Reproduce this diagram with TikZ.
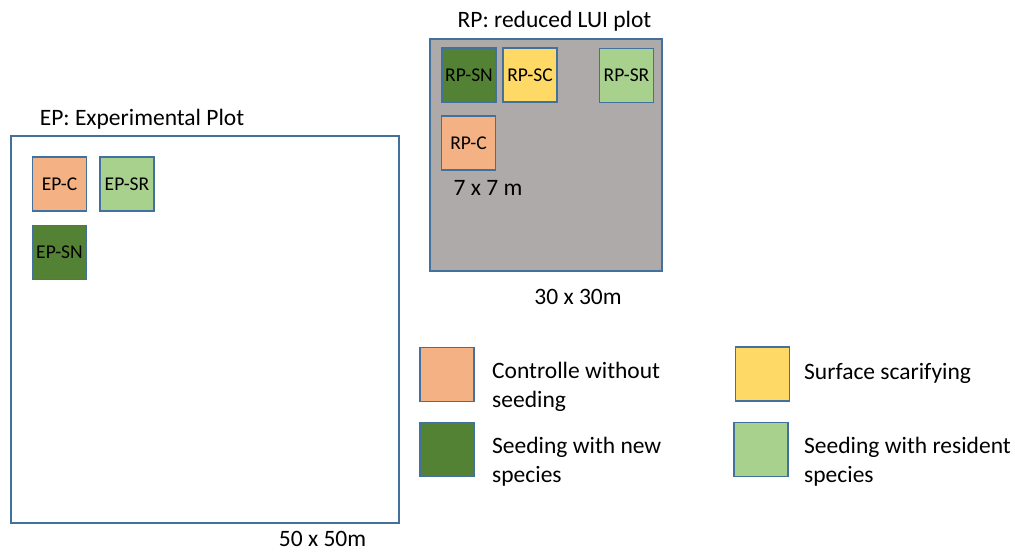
\documentclass[tikz,border=0pt]{standalone}
\usepackage{fontspec}
\setmainfont{Carlito}
\definecolor{bordc}{HTML}{41719C}
\definecolor{orangec}{HTML}{F4B183}
\definecolor{dgreenc}{HTML}{548235}
\definecolor{yellowc}{HTML}{FFD966}
\definecolor{lgreenc}{HTML}{A9D18E}
\definecolor{grayc}{HTML}{AEAAAA}
\tikzset{
  plotbox/.style={draw=bordc, line width=1.6pt, rectangle, inner sep=0pt},
  sub/.style={draw=bordc, line width=1.6pt, rectangle, inner sep=0pt,
    minimum width=54pt, minimum height=54pt, font=\fontsize{19.5}{23}\selectfont},
  lbl/.style={inner sep=0pt, font=\fontsize{23.5}{29}\selectfont},
  legtxt/.style={inner sep=0pt, anchor=west, align=left, font=\fontsize{23.5}{29}\selectfont}
}
\begin{document}
\begin{tikzpicture}[x=1pt, y=-1pt]
\useasboundingbox (0,0) rectangle (1015,555);
% Experimental plot
\node[plotbox, minimum width=388pt, minimum height=387pt] (ep) at (205,329.5) {};
\node[lbl] (eptitle) at (142,119) {EP: Experimental Plot};
\node[sub, fill=orangec] (epc) at (59.5,184) {EP-C};
\node[sub, fill=lgreenc] (epsr) at (127,184) {EP-SR};
\node[sub, fill=dgreenc] (epsn) at (59.5,252.5) {EP-SN};
\node[lbl] (epsize) at (322.5,539) {50 x 50m};
% Reduced LUI plot
\node[plotbox, fill=grayc, minimum width=232pt, minimum height=232pt] (rp) at (546,155) {};
\node[lbl] (rptitle) at (554.5,21) {RP: reduced LUI plot};
\node[sub, fill=dgreenc] (rpsn) at (469,75) {RP-SN};
\node[sub, fill=yellowc] (rpsc) at (530,75) {RP-SC};
\node[sub, fill=lgreenc] (rpsr) at (626.5,75.5) {RP-SR};
\node[sub, fill=orangec] (rpc) at (468.5,143) {RP-C};
\node[lbl] (subsize) at (488,188) {7 x 7 m};
\node[lbl] (rpsize) at (578,297) {30 x 30m};
% Legend
\node[sub, fill=orangec] (l1) at (447,374.5) {};
\node[sub, fill=dgreenc] (l2) at (447,449.5) {};
\node[sub, fill=yellowc] (l3) at (762.5,374) {};
\node[sub, fill=lgreenc] (l4) at (761,449.5) {};
\node[legtxt] (t1) at (492,387) {Controlle without\\seeding};
\node[legtxt] (t2) at (492,462) {Seeding with new\\species};
\node[legtxt] (t3) at (804,373) {Surface scarifying};
\node[legtxt] (t4) at (804,462) {Seeding with resident\\species};
\end{tikzpicture}
\end{document}
